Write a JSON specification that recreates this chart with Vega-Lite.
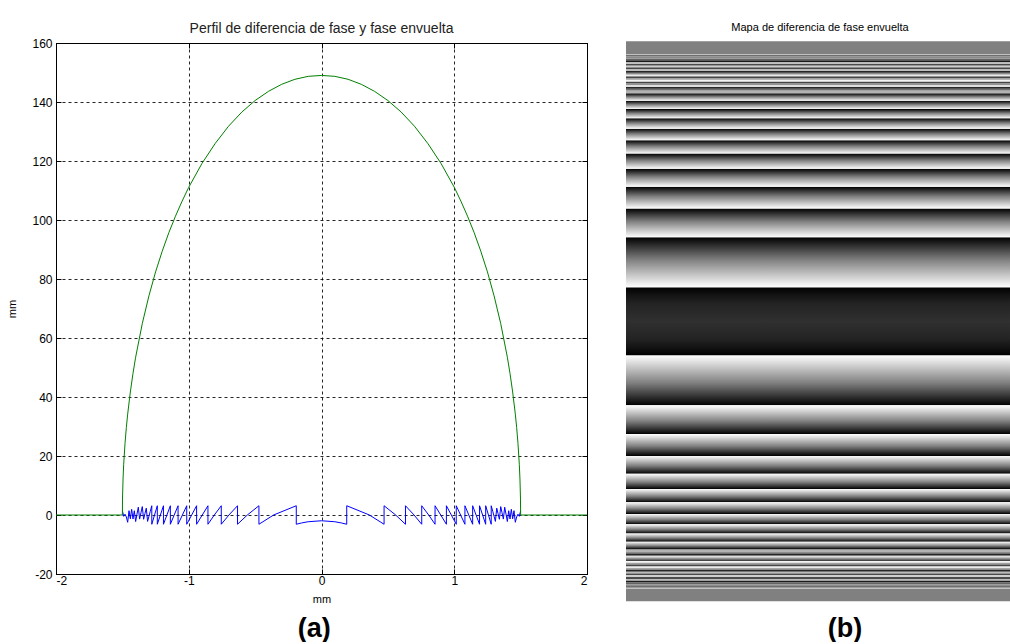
{
  "$schema": "https://vega.github.io/schema/vega-lite/v6.json",
  "background": "white",
  "padding": {"left": 6, "top": 21, "right": 0, "bottom": 0},
  "spacing": 38,
  "config": {
    "font": "Liberation Sans, Arial",
    "concat": {"spacing": 0},
    "locale": {"number": {"decimal": ".", "thousands": ",", "grouping": [3], "currency": ["$", ""], "minus": "-"}}
  },
  "datasets": {
    "green": [
      {"x": -2, "y": 0}, {"x": -1.5, "y": 0}, {"x": -1.499, "y": 5.4}, {"x": -1.495, "y": 12.2},
      {"x": -1.49, "y": 17.2}, {"x": -1.48, "y": 24.3}, {"x": -1.47, "y": 29.7}, {"x": -1.46, "y": 34.2},
      {"x": -1.44, "y": 41.7}, {"x": -1.42, "y": 48.0}, {"x": -1.4, "y": 53.5}, {"x": -1.35, "y": 64.9},
      {"x": -1.3, "y": 74.3}, {"x": -1.25, "y": 82.4}, {"x": -1.2, "y": 89.4}, {"x": -1.15, "y": 95.7},
      {"x": -1.1, "y": 101.3}, {"x": -1.05, "y": 106.4}, {"x": -1.0, "y": 111.1}, {"x": -0.9, "y": 119.2},
      {"x": -0.8, "y": 126.0}, {"x": -0.7, "y": 131.8}, {"x": -0.6, "y": 136.6}, {"x": -0.5, "y": 140.5},
      {"x": -0.4, "y": 143.6}, {"x": -0.3, "y": 146.0}, {"x": -0.2, "y": 147.7}, {"x": -0.1, "y": 148.7},
      {"x": 0, "y": 149.0},
      {"x": 0.1, "y": 148.7}, {"x": 0.2, "y": 147.7}, {"x": 0.3, "y": 146.0}, {"x": 0.4, "y": 143.6},
      {"x": 0.5, "y": 140.5}, {"x": 0.6, "y": 136.6}, {"x": 0.7, "y": 131.8}, {"x": 0.8, "y": 126.0},
      {"x": 0.9, "y": 119.2}, {"x": 1.0, "y": 111.1}, {"x": 1.05, "y": 106.4}, {"x": 1.1, "y": 101.3},
      {"x": 1.15, "y": 95.7}, {"x": 1.2, "y": 89.4}, {"x": 1.25, "y": 82.4}, {"x": 1.3, "y": 74.3},
      {"x": 1.35, "y": 64.9}, {"x": 1.4, "y": 53.5}, {"x": 1.42, "y": 48.0}, {"x": 1.44, "y": 41.7},
      {"x": 1.46, "y": 34.2}, {"x": 1.47, "y": 29.7}, {"x": 1.48, "y": 24.3}, {"x": 1.49, "y": 17.2},
      {"x": 1.495, "y": 12.2}, {"x": 1.499, "y": 5.4}, {"x": 1.5, "y": 0}, {"x": 2, "y": 0}
    ],
    "blue": [
      {"i": 0, "x": -1.5, "p": 1.41}, {"i": 1, "x": -1.49, "p": -0.443}, {"i": 2, "x": -1.48, "p": 0.272},
      {"i": 3, "x": -1.47, "p": -0.667}, {"i": 4, "x": -1.46, "p": -2.469}, {"i": 5, "x": -1.45, "p": 1.46},
      {"i": 6, "x": -1.44, "p": -1.291}, {"i": 7, "x": -1.43, "p": 1.94}, {"i": 8, "x": -1.42, "p": -1.351},
      {"i": 9, "x": -1.41, "p": 1.445}, {"i": 10, "x": -1.4, "p": -2.209}, {"i": 11, "x": -1.39, "p": 0.279},
      {"i": 12, "x": -1.38, "p": 2.643}, {"i": 13, "x": -1.37, "p": -1.385}, {"i": 14, "x": -1.36, "p": 0.772},
      {"i": 15, "x": -1.35, "p": 2.843}, {"i": 16, "x": -1.34, "p": -1.45}, {"i": 17, "x": -1.33, "p": 0.469},
      {"i": 18, "x": -1.32, "p": 2.321}, {"i": 19, "x": -1.31, "p": -2.171}, {"i": 20, "x": -1.3, "p": -0.436},
      {"i": 21, "x": -1.29, "p": 1.245},
      {"i": 22, "x": -1.2784, "p": 3.14}, {"i": 23, "x": -1.2784, "p": -3.14},
      {"i": 24, "x": -1.2368, "p": 3.14}, {"i": 25, "x": -1.2368, "p": -3.14},
      {"i": 26, "x": -1.1905, "p": 3.14}, {"i": 27, "x": -1.1905, "p": -3.14},
      {"i": 28, "x": -1.1386, "p": 3.14}, {"i": 29, "x": -1.1386, "p": -3.14},
      {"i": 30, "x": -1.0805, "p": 3.14}, {"i": 31, "x": -1.0805, "p": -3.14},
      {"i": 32, "x": -1.0151, "p": 3.14}, {"i": 33, "x": -1.0151, "p": -3.14},
      {"i": 34, "x": -0.9408, "p": 3.14}, {"i": 35, "x": -0.9408, "p": -3.14},
      {"i": 36, "x": -0.8554, "p": 3.14}, {"i": 37, "x": -0.8554, "p": -3.14},
      {"i": 38, "x": -0.8074, "p": 0},
      {"i": 39, "x": -0.755, "p": 3.14}, {"i": 40, "x": -0.755, "p": -3.14},
      {"i": 41, "x": -0.6972, "p": 0},
      {"i": 42, "x": -0.6326, "p": 3.14}, {"i": 43, "x": -0.6326, "p": -3.14},
      {"i": 44, "x": -0.5588, "p": 0},
      {"i": 45, "x": -0.4714, "p": 3.14}, {"i": 46, "x": -0.4714, "p": -3.14},
      {"i": 47, "x": -0.3608, "p": 0},
      {"i": 48, "x": -0.19, "p": 3.14}, {"i": 49, "x": -0.19, "p": -3.14},
      {"i": 50, "x": -0.15, "p": -2.692}, {"i": 51, "x": -0.1, "p": -2.281},
      {"i": 52, "x": 0, "p": -1.954},
      {"i": 53, "x": 0.1, "p": -2.281}, {"i": 54, "x": 0.15, "p": -2.692},
      {"i": 55, "x": 0.19, "p": -3.14}, {"i": 56, "x": 0.19, "p": 3.14},
      {"i": 57, "x": 0.3608, "p": 0},
      {"i": 58, "x": 0.4714, "p": -3.14}, {"i": 59, "x": 0.4714, "p": 3.14},
      {"i": 60, "x": 0.5588, "p": 0},
      {"i": 61, "x": 0.6326, "p": -3.14}, {"i": 62, "x": 0.6326, "p": 3.14},
      {"i": 63, "x": 0.6972, "p": 0},
      {"i": 64, "x": 0.755, "p": -3.14}, {"i": 65, "x": 0.755, "p": 3.14},
      {"i": 66, "x": 0.8074, "p": 0},
      {"i": 67, "x": 0.8554, "p": -3.14}, {"i": 68, "x": 0.8554, "p": 3.14},
      {"i": 69, "x": 0.9408, "p": -3.14}, {"i": 70, "x": 0.9408, "p": 3.14},
      {"i": 71, "x": 1.0151, "p": -3.14}, {"i": 72, "x": 1.0151, "p": 3.14},
      {"i": 73, "x": 1.0805, "p": -3.14}, {"i": 74, "x": 1.0805, "p": 3.14},
      {"i": 75, "x": 1.1386, "p": -3.14}, {"i": 76, "x": 1.1386, "p": 3.14},
      {"i": 77, "x": 1.1905, "p": -3.14}, {"i": 78, "x": 1.1905, "p": 3.14},
      {"i": 79, "x": 1.2368, "p": -3.14}, {"i": 80, "x": 1.2368, "p": 3.14},
      {"i": 81, "x": 1.2784, "p": -3.14}, {"i": 82, "x": 1.2784, "p": 3.14},
      {"i": 83, "x": 1.29, "p": 1.245}, {"i": 84, "x": 1.3, "p": -0.436}, {"i": 85, "x": 1.31, "p": -2.171},
      {"i": 86, "x": 1.32, "p": 2.321}, {"i": 87, "x": 1.33, "p": 0.469}, {"i": 88, "x": 1.34, "p": -1.45},
      {"i": 89, "x": 1.35, "p": 2.843}, {"i": 90, "x": 1.36, "p": 0.772}, {"i": 91, "x": 1.37, "p": -1.385},
      {"i": 92, "x": 1.38, "p": 2.643}, {"i": 93, "x": 1.39, "p": 0.279}, {"i": 94, "x": 1.4, "p": -2.209},
      {"i": 95, "x": 1.41, "p": 1.445}, {"i": 96, "x": 1.42, "p": -1.351}, {"i": 97, "x": 1.43, "p": 1.94},
      {"i": 98, "x": 1.44, "p": -1.291}, {"i": 99, "x": 1.45, "p": 1.46}, {"i": 100, "x": 1.46, "p": -2.469},
      {"i": 101, "x": 1.47, "p": -0.667}, {"i": 102, "x": 1.48, "p": 0.272}, {"i": 103, "x": 1.49, "p": -0.443},
      {"i": 104, "x": 1.5, "p": 1.41}
    ],
    "bands": [
      {"k": "out", "lo": 1.5, "hi": 1.5708}, {"k": "out", "lo": -1.5708, "hi": -1.5},
      {"k": "mid", "lo": -0.19, "hi": 0.19},
      {"k": "pos", "lo": 0.19, "hi": 0.4714}, {"k": "pos", "lo": 0.4714, "hi": 0.6326},
      {"k": "pos", "lo": 0.6326, "hi": 0.755}, {"k": "pos", "lo": 0.755, "hi": 0.8554},
      {"k": "pos", "lo": 0.8554, "hi": 0.9408}, {"k": "pos", "lo": 0.9408, "hi": 1.0151},
      {"k": "pos", "lo": 1.0151, "hi": 1.0805}, {"k": "pos", "lo": 1.0805, "hi": 1.1386},
      {"k": "pos", "lo": 1.1386, "hi": 1.1905}, {"k": "pos", "lo": 1.1905, "hi": 1.2368},
      {"k": "pos", "lo": 1.2368, "hi": 1.2784},
      {"k": "neg", "lo": -0.4714, "hi": -0.19}, {"k": "neg", "lo": -0.6326, "hi": -0.4714},
      {"k": "neg", "lo": -0.755, "hi": -0.6326}, {"k": "neg", "lo": -0.8554, "hi": -0.755},
      {"k": "neg", "lo": -0.9408, "hi": -0.8554}, {"k": "neg", "lo": -1.0151, "hi": -0.9408},
      {"k": "neg", "lo": -1.0805, "hi": -1.0151}, {"k": "neg", "lo": -1.1386, "hi": -1.0805},
      {"k": "neg", "lo": -1.1905, "hi": -1.1386}, {"k": "neg", "lo": -1.2368, "hi": -1.1905},
      {"k": "neg", "lo": -1.2784, "hi": -1.2368},
      {"k": "cell", "lo": 1.2784, "hi": 1.295, "p": 1.245}, {"k": "cell", "lo": 1.295, "hi": 1.305, "p": -0.436},
      {"k": "cell", "lo": 1.305, "hi": 1.315, "p": -2.171}, {"k": "cell", "lo": 1.315, "hi": 1.325, "p": 2.321},
      {"k": "cell", "lo": 1.325, "hi": 1.335, "p": 0.469}, {"k": "cell", "lo": 1.335, "hi": 1.345, "p": -1.45},
      {"k": "cell", "lo": 1.345, "hi": 1.355, "p": 2.843}, {"k": "cell", "lo": 1.355, "hi": 1.365, "p": 0.772},
      {"k": "cell", "lo": 1.365, "hi": 1.375, "p": -1.385}, {"k": "cell", "lo": 1.375, "hi": 1.385, "p": 2.643},
      {"k": "cell", "lo": 1.385, "hi": 1.395, "p": 0.279}, {"k": "cell", "lo": 1.395, "hi": 1.405, "p": -2.209},
      {"k": "cell", "lo": 1.405, "hi": 1.415, "p": 1.445}, {"k": "cell", "lo": 1.415, "hi": 1.425, "p": -1.351},
      {"k": "cell", "lo": 1.425, "hi": 1.435, "p": 1.94}, {"k": "cell", "lo": 1.435, "hi": 1.445, "p": -1.291},
      {"k": "cell", "lo": 1.445, "hi": 1.455, "p": 1.46}, {"k": "cell", "lo": 1.455, "hi": 1.465, "p": -2.469},
      {"k": "cell", "lo": 1.465, "hi": 1.475, "p": -0.667}, {"k": "cell", "lo": 1.475, "hi": 1.485, "p": 0.272},
      {"k": "cell", "lo": 1.485, "hi": 1.495, "p": -0.443}, {"k": "cell", "lo": 1.495, "hi": 1.5, "p": 1.41},
      {"k": "cell", "lo": -1.295, "hi": -1.2784, "p": 1.245}, {"k": "cell", "lo": -1.305, "hi": -1.295, "p": -0.436},
      {"k": "cell", "lo": -1.315, "hi": -1.305, "p": -2.171}, {"k": "cell", "lo": -1.325, "hi": -1.315, "p": 2.321},
      {"k": "cell", "lo": -1.335, "hi": -1.325, "p": 0.469}, {"k": "cell", "lo": -1.345, "hi": -1.335, "p": -1.45},
      {"k": "cell", "lo": -1.355, "hi": -1.345, "p": 2.843}, {"k": "cell", "lo": -1.365, "hi": -1.355, "p": 0.772},
      {"k": "cell", "lo": -1.375, "hi": -1.365, "p": -1.385}, {"k": "cell", "lo": -1.385, "hi": -1.375, "p": 2.643},
      {"k": "cell", "lo": -1.395, "hi": -1.385, "p": 0.279}, {"k": "cell", "lo": -1.405, "hi": -1.395, "p": -2.209},
      {"k": "cell", "lo": -1.415, "hi": -1.405, "p": 1.445}, {"k": "cell", "lo": -1.425, "hi": -1.415, "p": -1.351},
      {"k": "cell", "lo": -1.435, "hi": -1.425, "p": 1.94}, {"k": "cell", "lo": -1.445, "hi": -1.435, "p": -1.291},
      {"k": "cell", "lo": -1.455, "hi": -1.445, "p": 1.46}, {"k": "cell", "lo": -1.465, "hi": -1.455, "p": -2.469},
      {"k": "cell", "lo": -1.475, "hi": -1.465, "p": -0.667}, {"k": "cell", "lo": -1.485, "hi": -1.475, "p": 0.272},
      {"k": "cell", "lo": -1.495, "hi": -1.485, "p": -0.443}, {"k": "cell", "lo": -1.5, "hi": -1.495, "p": 1.41}
    ]
  },
  "hconcat": [
    {
      "title": {"text": "(a)", "orient": "bottom", "anchor": "middle", "fontSize": 27, "fontWeight": "bold", "font": "Liberation Sans", "color": "#000", "offset": 11, "dx": 17},
      "hconcat": [
        {
          "width": 531,
          "height": 531,
          "title": {"text": "Perfil de diferencia de fase y fase envuelta", "fontSize": 14, "fontWeight": "normal", "font": "Liberation Sans", "color": "#222", "offset": 1},
          "view": {"stroke": "#000", "strokeWidth": 1},
          "resolve": {"axis": {"x": "independent", "y": "independent"}},
          "layer": [
            {
              "data": {"name": "blue"},
              "mark": {"type": "line", "color": "#0000ff", "strokeWidth": 1, "clip": true},
              "encoding": {
                "x": {"field": "x", "type": "quantitative", "scale": {"domain": [-2, 2], "nice": false, "zero": false},
                  "axis": {"title": "mm", "values": [-2, -1, 0, 1, 2], "grid": true, "gridColor": "#000", "gridDash": [3, 3], "gridOpacity": 0.85, "gridWidth": 1,
                    "domainColor": "#000", "tickColor": "#000", "tickSize": -5, "labelPadding": 6, "labelFontSize": 12, "labelColor": "#000",
                    "titleFontSize": 11, "titleFontWeight": "normal", "titleColor": "#000", "titlePadding": 7}},
                "y": {"field": "p", "type": "quantitative", "scale": {"domain": [-20, 160], "nice": false, "zero": false},
                  "axis": {"title": "mm", "values": [-20, 0, 20, 40, 60, 80, 100, 120, 140, 160], "grid": true, "gridColor": "#000", "gridDash": [3, 3], "gridOpacity": 0.85, "gridWidth": 1,
                    "domainColor": "#000", "tickColor": "#000", "tickSize": -5, "labelPadding": 9, "labelFontSize": 12, "labelColor": "#000",
                    "titleFontSize": 11, "titleFontWeight": "normal", "titleColor": "#000", "titlePadding": 14}},
                "order": {"field": "i", "type": "quantitative"}
              }
            },
            {
              "data": {"name": "green"},
              "mark": {"type": "line", "color": "#008000", "strokeWidth": 1, "clip": true},
              "encoding": {
                "x": {"field": "x", "type": "quantitative",
                  "axis": {"orient": "top", "title": null, "labels": false, "grid": false, "values": [-2, -1, 0, 1, 2], "domainColor": "#000", "tickColor": "#000", "tickSize": -5}},
                "y": {"field": "y", "type": "quantitative",
                  "axis": {"orient": "right", "title": null, "labels": false, "grid": false, "values": [-20, 0, 20, 40, 60, 80, 100, 120, 140, 160], "domainColor": "#000", "tickColor": "#000", "tickSize": -5}}
              }
            }
          ]
        }
      ]
    },
    {
      "title": {"text": "(b)", "orient": "bottom", "anchor": "middle", "fontSize": 27, "fontWeight": "bold", "font": "Liberation Sans", "color": "#000", "offset": 13, "dx": 25},
      "hconcat": [
        {
          "width": 388,
          "height": 560,
          "title": {"text": "Mapa de diferencia de fase envuelta", "fontSize": 11, "fontWeight": "normal", "font": "Liberation Sans", "color": "#000", "offset": 8},
          "view": {"stroke": null},
          "data": {"name": "bands"},
          "encoding": {
            "x": {"datum": 0, "type": "quantitative", "scale": {"domain": [0, 1], "nice": false}, "axis": null},
            "x2": {"datum": 1},
            "y": {"field": "lo", "type": "quantitative", "scale": {"domain": [-1.5803, 1.5613], "nice": false, "zero": false}, "axis": null},
            "y2": {"field": "hi"}
          },
          "layer": [
            {
              "transform": [{"filter": "datum.k === 'out'"}],
              "mark": {"type": "rect", "color": "#808080", "clip": false}
            },
            {
              "transform": [{"filter": "datum.k === 'cell'"}],
              "mark": {"type": "rect"},
              "encoding": {
                "color": {"field": "p", "type": "quantitative", "scale": {"domain": [-3.1416, 3.1416], "range": ["#000000", "#ffffff"], "interpolate": "rgb"}, "legend": null}
              }
            },
            {
              "transform": [{"filter": "datum.k === 'pos'"}],
              "mark": {"type": "rect", "color": {"gradient": "linear", "x1": 0, "y1": 0, "x2": 0, "y2": 1,
                "stops": [{"offset": 0, "color": "#000000"}, {"offset": 0.45, "color": "#808080"}, {"offset": 1, "color": "#ffffff"}]}}
            },
            {
              "transform": [{"filter": "datum.k === 'neg'"}],
              "mark": {"type": "rect", "color": {"gradient": "linear", "x1": 0, "y1": 0, "x2": 0, "y2": 1,
                "stops": [{"offset": 0, "color": "#ffffff"}, {"offset": 0.55, "color": "#808080"}, {"offset": 1, "color": "#000000"}]}}
            },
            {
              "transform": [{"filter": "datum.k === 'mid'"}],
              "mark": {"type": "rect", "color": {"gradient": "linear", "x1": 0, "y1": 0, "x2": 0, "y2": 1,
                "stops": [{"offset": 0, "color": "#000000"}, {"offset": 0.105, "color": "#121212"}, {"offset": 0.237, "color": "#232323"}, {"offset": 0.5, "color": "#303030"}, {"offset": 0.763, "color": "#232323"}, {"offset": 0.895, "color": "#121212"}, {"offset": 1, "color": "#000000"}]}}
            }
          ]
        }
      ]
    }
  ]
}
